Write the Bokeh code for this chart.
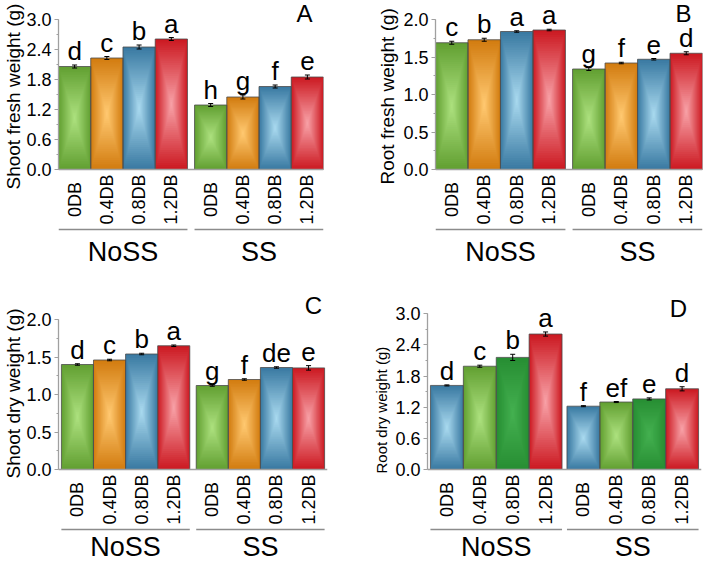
import math
from bokeh.plotting import figure
from bokeh.models import (FactorRange, Range1d, SingleIntervalTicker,
                          NumeralTickFormatter, Span, Label, ColumnDataSource)
from bokeh.layouts import column, row
from bokeh.embed import file_html
from bokeh.resources import INLINE
from bokeh.core.properties import value

FONT = "Liberation Sans"

# ---------------- data ----------------
groups = ["NoSS", "SS"]
treatments = ["0DB", "0.4DB", "0.8DB", "1.2DB"]

shoot_fw = [2.06, 2.23, 2.45, 2.61, 1.29, 1.45, 1.66, 1.85]
shoot_fw_err = [0.03, 0.03, 0.04, 0.03, 0.03, 0.04, 0.03, 0.04]
shoot_fw_letters = ["d", "c", "b", "a", "h", "g", "f", "e"]

root_fw = [1.69, 1.73, 1.84, 1.86, 1.34, 1.42, 1.47, 1.55]
root_fw_err = [0.02, 0.02, 0.01, 0.01, 0.02, 0.01, 0.01, 0.02]
root_fw_letters = ["c", "b", "a", "a", "g", "f", "e", "d"]

shoot_dw = [1.40, 1.46, 1.54, 1.65, 1.12, 1.20, 1.36, 1.355]
shoot_dw_err = [0.01, 0.01, 0.01, 0.01, 0.01, 0.01, 0.01, 0.03]
shoot_dw_letters = ["d", "c", "b", "a", "g", "f", "de", "e"]

root_dw = [1.62, 1.99, 2.16, 2.61, 1.22, 1.30, 1.36, 1.555]
root_dw_err = [0.01, 0.02, 0.06, 0.04, 0.01, 0.01, 0.02, 0.04]
root_dw_letters = ["d", "c", "b", "a", "f", "ef", "e", "d"]

# ---------------- styles ----------------
GREEN = ("#62a032", "#ace07e")
ORANGE = ("#d27c10", "#ffc870")
BLUE = ("#3a7aa2", "#a8d8ee")
RED = ("#cc1a22", "#f7a0a6")
DKGREEN = ("#278e33", "#44b050")
AXIS_GRAY = "#a0a0a0"

factors = [(g, t) for g in groups for t in treatments]


def mix(c1, c2, t):
    a = [int(c1[i:i + 2], 16) for i in (1, 3, 5)]
    b = [int(c2[i:i + 2], 16) for i in (1, 3, 5)]
    return "#%02x%02x%02x" % tuple(round(a[k] + (b[k] - a[k]) * t) for k in range(3))


def make_panel(vals, errs, letters, colors, ylabel, ytop, yint, tag,
               W, H, fig_left, fig_top, axis_x, frame_right, y0, ppu,
               gp, rp, ylab_standoff, ylab_size, ylab_start, tag_x, tag_y, grp_off):
    fig_bottom = fig_top + H
    y_end = (y0 - fig_top) / ppu
    y_start = -(fig_bottom - y0) / ppu
    p = figure(width=W, height=H,
               x_range=FactorRange(*factors, factor_padding=0, group_padding=gp,
                                   range_padding=rp),
               y_range=Range1d(y_start, y_end),
               x_axis_location=None, output_backend="svg", toolbar_location=None,
               title=ylabel, title_location="left",
               min_border_left=axis_x - fig_left,
               min_border_right=(fig_left + W) - frame_right,
               min_border_top=0, min_border_bottom=0,
               outline_line_color=None)
    p.grid.visible = False

    # y label as a left-side title; starts ylab_start px above figure bottom
    p.title.align = "left"
    p.title.offset = fig_bottom - ylab_start
    p.title.standoff = ylab_standoff
    p.title.text_font = FONT
    p.title.text_font_size = ylab_size
    p.title.text_font_style = "normal"
    p.title.text_color = "black"

    # gradient bars (nested rectangles)
    N = 30
    for i in range(N):
        s = i / N
        tcol = i / (N - 1)
        src = ColumnDataSource(dict(
            x=factors, y=[v / 2 for v in vals], h=[v * (1 - s) for v in vals],
            c=[mix(colors[k][0], colors[k][1], tcol) for k in range(8)]))
        p.rect(x="x", y="y", width=1 - s, height="h", fill_color="c",
               line_color=None, source=src)
    p.vbar(x=factors, top=vals, width=1, fill_color=None,
           line_color="#4d4d4d", line_width=0.8)

    # error bars
    lo = [v - e for v, e in zip(vals, errs)]
    hi = [v + e for v, e in zip(vals, errs)]
    p.segment(x0=factors, y0=lo, x1=factors, y1=hi, line_color="black", line_width=1)
    p.scatter(x=factors + factors, y=lo + hi, marker="dash", size=5,
              line_color="black", line_width=1)

    # significance letters
    p.text(x=factors, y=[h + 14 / ppu for h in hi], text=letters,
           text_font=value(FONT), text_font_size="26px", text_align="center",
           text_baseline="middle", text_color="black")

    # x axis line at 0
    p.add_layout(Span(location=0, dimension="width", line_color=AXIS_GRAY,
                      line_width=1.3))

    # category labels (rotated)
    p.text(x=factors, y=[-30 / ppu] * 8, text=treatments * 2, angle=math.pi / 2,
           text_font=value(FONT), text_font_size="18px", text_align="center",
           text_baseline="middle", text_color="black")
    # group underline
    p.rect(x=groups, y=[-60 / ppu] * 2, width=4, height=1.4, height_units="screen",
           fill_color="#8c8c8c", line_color=None)
    # group labels
    p.text(x=groups, y=[-grp_off / ppu] * 2, text=groups, text_font=value(FONT),
           text_font_size="27px", text_align="center", text_baseline="middle",
           text_color="black")

    # y axis
    ax = p.yaxis[0]
    ax.bounds = (0, ytop)
    ax.ticker = SingleIntervalTicker(interval=yint, num_minor_ticks=2)
    ax.formatter = NumeralTickFormatter(format="0.0")
    ax.major_label_text_font = FONT
    ax.major_label_text_font_size = "18px"
    ax.major_label_text_color = "black"
    ax.axis_line_color = AXIS_GRAY
    ax.axis_line_width = 1.3
    ax.major_tick_line_color = AXIS_GRAY
    ax.minor_tick_line_color = AXIS_GRAY
    ax.major_tick_out = 4
    ax.major_tick_in = 0
    ax.minor_tick_out = 2
    ax.minor_tick_in = 0
    ax.major_label_standoff = 3

    p.add_layout(Label(x=tag_x - axis_x, x_units="screen", y=(y0 - tag_y) / ppu,
                       y_units="data", text=tag, text_align="center",
                       text_baseline="middle", text_font=FONT,
                       text_font_size="24px", text_color="black"))
    return p


cols_std = [GREEN, ORANGE, BLUE, RED] * 2
cols_d = [BLUE, GREEN, DKGREEN, RED] * 2

pA = make_panel(shoot_fw, shoot_fw_err, shoot_fw_letters, cols_std,
                "Shoot fresh weight (g)", 3.0, 0.6, "A",
                W=353, H=280, fig_left=0, fig_top=0, axis_x=55, frame_right=323,
                y0=169, ppu=50, gp=0.22, rp=0.0, ylab_standoff=0, ylab_size="19px",
                ylab_start=189, tag_x=301, tag_y=13, grp_off=82)
pB = make_panel(root_fw, root_fw_err, root_fw_letters, cols_std,
                "Root fresh weight (g)", 2.0, 0.5, "B",
                W=353, H=280, fig_left=353, fig_top=0, axis_x=435, frame_right=702,
                y0=169, ppu=75, gp=0.22, rp=0.0, ylab_standoff=5, ylab_size="19px",
                ylab_start=184, tag_x=683, tag_y=13, grp_off=82)
pC = make_panel(shoot_dw, shoot_dw_err, shoot_dw_letters, cols_std,
                "Shoot dry weight (g)", 2.0, 0.5, "C",
                W=353, H=281, fig_left=0, fig_top=280, axis_x=55, frame_right=327,
                y0=469, ppu=75, gp=0.2, rp=0.022, ylab_standoff=0, ylab_size="19px",
                ylab_start=478, tag_x=310, tag_y=305, grp_off=77)
pD = make_panel(root_dw, root_dw_err, root_dw_letters, cols_d,
                "Root dry weight (g)", 3.0, 0.6, "D",
                W=353, H=281, fig_left=353, fig_top=280, axis_x=427, frame_right=701,
                y0=469, ppu=51.9, gp=0.15, rp=0.022, ylab_standoff=6, ylab_size="15px",
                ylab_start=473, tag_x=678, tag_y=308, grp_off=77)

layout = column(row(pA, pB), row(pC, pD))
open("out.html", "w").write(file_html(layout, INLINE))
